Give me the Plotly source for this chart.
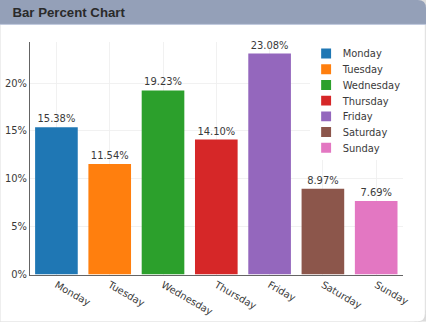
import plotly.graph_objects as go

days = ["Monday", "Tuesday", "Wednesday", "Thursday", "Friday", "Saturday", "Sunday"]
shares = [0.1538, 0.1154, 0.1923, 0.1410, 0.2308, 0.0897, 0.0769]
colors = ["#1f77b4", "#ff7f0e", "#2ca02c", "#d62728", "#9467bd", "#8c564b", "#e377c2"]
y_ticks = [0, 0.05, 0.10, 0.15, 0.20]
title_text = "Bar Percent Chart"

# figure is laid out at a larger size and scaled down to the 426x322 window
S = 426 / 515
W, H = 515, 389
L, R, T, B = 36, 28, 51, 57
pw, ph = W - L - R, H - T - B

def px(x):
    return (x - L) / pw

def py(y):
    return 1 - (y - T) / ph

fig = go.Figure()
for d, v, c in zip(days, shares, colors):
    fig.add_trace(go.Bar(
        x=[d], y=[v], name=d,
        marker=dict(color=c, line=dict(width=0)),
        text=[f"{v*100:.2f}%"], textposition="outside", cliponaxis=False,
        textfont=dict(size=12, color="#3a3a3a", family="DejaVu Sans"),
    ))

r = 10
hx0, hx1, hy0, hy1 = px(0), px(W), py(0), py(29)
shapes = [
    dict(type="rect", xref="paper", yref="paper", x0=px(W - 14), x1=px(W), y0=py(0), y1=py(14),
         fillcolor="#dcdcdc", line=dict(width=0), layer="below"),
    dict(type="rect", xref="paper", yref="paper", x0=px(W - 14), x1=px(W), y0=py(H - 14), y1=py(H),
         fillcolor="#dcdcdc", line=dict(width=0), layer="below"),
    dict(type="path", xref="paper", yref="paper",
         path=(f"M {px(0)} {py(20)} L {px(W - 0.8)} {py(20)} L {px(W - 0.8)} {py(H - r)} "
               f"Q {px(W - 0.8)} {py(H)} {px(W - r)} {py(H)} L {px(0)} {py(H)} Z"),
         fillcolor="white", line=dict(color="#d6d6d6", width=1), layer="below"),
    dict(type="path", xref="paper", yref="paper",
         path=(f"M {hx0} {hy1} L {hx0} {hy0} L {px(W - r)} {hy0} "
               f"Q {hx1} {hy0} {hx1} {py(r)} L {hx1} {hy1} Z"),
         fillcolor="#94a0b8", line=dict(width=0), layer="below"),
    dict(type="line", xref="paper", yref="paper", x0=hx0, x1=hx1, y0=py(29.5), y1=py(29.5),
         line=dict(color="#b9c4da", width=1.2), layer="below"),
]

fig.update_layout(
    width=W, height=H,
    margin=dict(l=L, r=R, t=T, b=B, autoexpand=False),
    paper_bgcolor="white", plot_bgcolor="rgba(0,0,0,0)",
    barmode="overlay", bargap=0.2,
    showlegend=True,
    legend=dict(x=0.75, y=1.003, xanchor="left", yanchor="top",
                font=dict(size=12, color="#3a3a3a", family="DejaVu Sans"),
                bgcolor="white"),
    font=dict(family="DejaVu Sans", size=12, color="#3a3a3a"),
    shapes=shapes,
    annotations=[dict(text=f"<b>{title_text}</b>", xref="paper", yref="paper",
                      x=px(13), y=py(15), xanchor="left", yanchor="middle", showarrow=False,
                      font=dict(family="Liberation Sans, Arial", size=16, color="#2a2a2a"))],
    xaxis=dict(tickangle=30, showgrid=True, gridcolor="#eeeeee", showline=True,
               linecolor="#444", linewidth=1, ticks="", tickfont=dict(size=12, color="#3a3a3a"),
               categoryorder="array", categoryarray=days, automargin=False),
    yaxis=dict(range=[0, 0.2427], tickvals=y_ticks, tickformat=".0%", showgrid=True,
               gridcolor="#eeeeee", showline=True, linecolor="#444", linewidth=1,
               zeroline=False, ticks="", tickfont=dict(size=12, color="#3a3a3a"), automargin=False),
)

post = (
    "document.documentElement.style.overflow='hidden';"
    "document.body.style.margin='0';document.body.style.overflow='hidden';"
    "var gd=document.getElementById('{plot_id}');"
    f"gd.style.transformOrigin='0 0';gd.style.transform='scale({S:.5f})';"
)
fig.write_html("out.html", post_script=post)
